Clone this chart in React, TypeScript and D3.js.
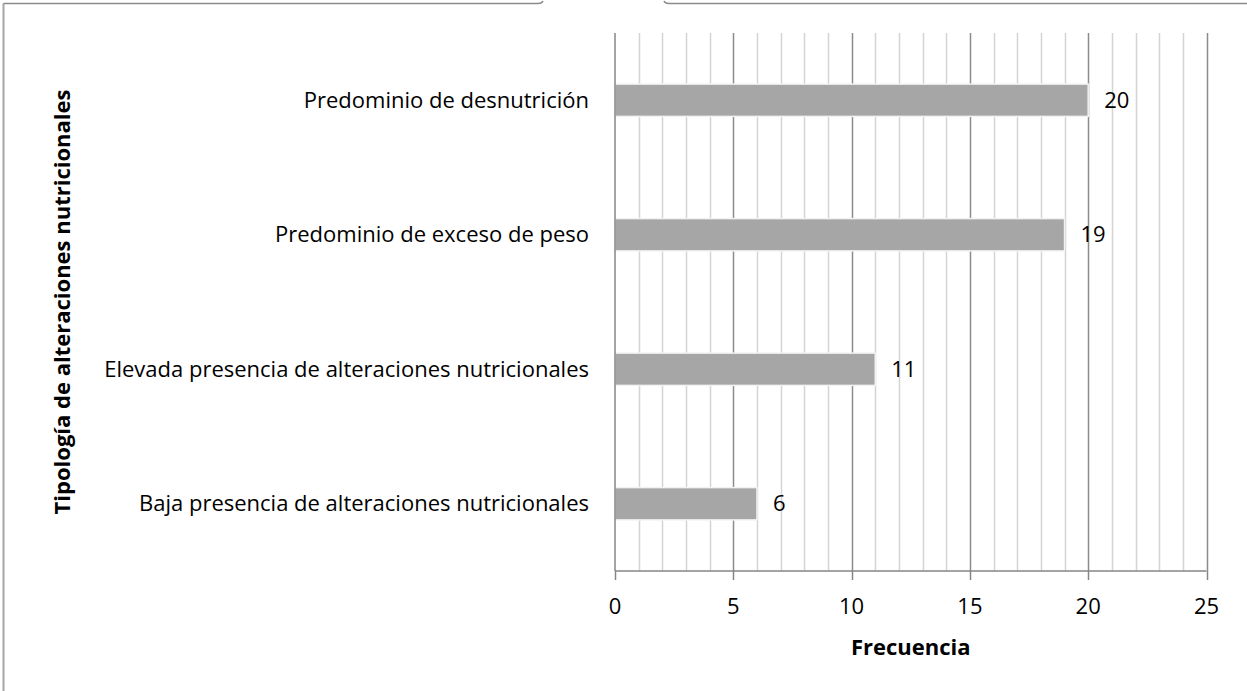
import * as d3 from "d3";

// Datos del gráfico
const categories = [
  "Predominio de desnutrición",
  "Predominio de exceso de peso",
  "Elevada presencia de alteraciones nutricionales",
  "Baja presencia de alteraciones nutricionales",
];
const values = [20, 19, 11, 6];
const xTicks = [0, 5, 10, 15, 20, 25];
const minorTicks = d3.range(1, 26);

const W = 1247;
const H = 691;
const FONT = "'Open Sans', sans-serif";

export default function App() {
  const plot = { left: 615, right: 1206.5, top: 33, bottom: 571 };

  const x = d3.scaleLinear().domain([0, 25]).range([plot.left, plot.right]);
  const y = d3
    .scaleBand<string>()
    .domain(categories)
    .range([plot.top, plot.bottom])
    .paddingInner(0.76)
    .paddingOuter(0.38);

  return (
    <svg
      width={W}
      height={H}
      style={{ position: "absolute", left: 0, top: 0, background: "#fff" }}
      fontFamily={FONT}
    >
      {/* borde del área del gráfico */}
      <line x1={3.5} y1={3.5} x2={3.5} y2={H} stroke="#a6a6a6" strokeWidth={2} />
      <path
        d={`M3.5,3.5 H538 Q542,3.5 543,1 M664,1 Q665,3.5 669,3.5 H${W}`}
        fill="none"
        stroke="#8a8a8a"
        strokeWidth={1.5}
      />

      {/* líneas de división */}
      {minorTicks.map((t) => (
        <line
          key={"g" + t}
          x1={Math.round(x(t)) + 0.5}
          x2={Math.round(x(t)) + 0.5}
          y1={plot.top}
          y2={plot.bottom}
          stroke={t % 5 === 0 ? "#8c8c8c" : "#d4d4d4"}
          strokeWidth={1.5}
        />
      ))}

      {/* barras */}
      {categories.map((c, i) => (
        <rect
          key={c}
          x={x(0)}
          y={y(c)!}
          width={x(values[i]) - x(0)}
          height={y.bandwidth()}
          fill="#a6a6a6"
          stroke="#f2f2f2"
          strokeWidth={1.5}
        />
      ))}

      {/* ejes */}
      <line x1={x(0)} x2={x(0)} y1={plot.top} y2={plot.bottom} stroke="#868686" strokeWidth={1.5} />
      <line x1={x(0)} x2={x(25)} y1={plot.bottom} y2={plot.bottom} stroke="#868686" strokeWidth={1.5} />
      {xTicks.map((t) => (
        <g key={"t" + t}>
          <line
            x1={Math.round(x(t)) + 0.5}
            x2={Math.round(x(t)) + 0.5}
            y1={plot.bottom}
            y2={plot.bottom + 9}
            stroke="#868686"
            strokeWidth={1.5}
          />
          <text x={x(t)} y={614} textAnchor="middle" fontSize={22} fill="#000">
            {t}
          </text>
        </g>
      ))}

      {/* etiquetas de categorías */}
      {categories.map((c) => (
        <text
          key={"c" + c}
          x={589}
          y={y(c)! + y.bandwidth() / 2}
          dy="0.35em"
          textAnchor="end"
          fontSize={22}
          fill="#000"
        >
          {c}
        </text>
      ))}

      {/* etiquetas de datos */}
      {categories.map((c, i) => (
        <text
          key={"v" + c}
          x={x(values[i]) + 16}
          y={y(c)! + y.bandwidth() / 2}
          dy="0.35em"
          fontSize={22}
          fill="#000"
        >
          {values[i]}
        </text>
      ))}

      {/* títulos de ejes */}
      <text
        x={(plot.left + plot.right) / 2}
        y={655}
        textAnchor="middle"
        fontSize={22}
        fontWeight="bold"
        fill="#000"
      >
        Frecuencia
      </text>
      <text
        transform={`translate(70,${(plot.top + plot.bottom) / 2}) rotate(-90)`}
        textAnchor="middle"
        fontSize={22}
        fontWeight="bold"
        fill="#000"
      >
        Tipología de alteraciones nutricionales
      </text>
    </svg>
  );
}
